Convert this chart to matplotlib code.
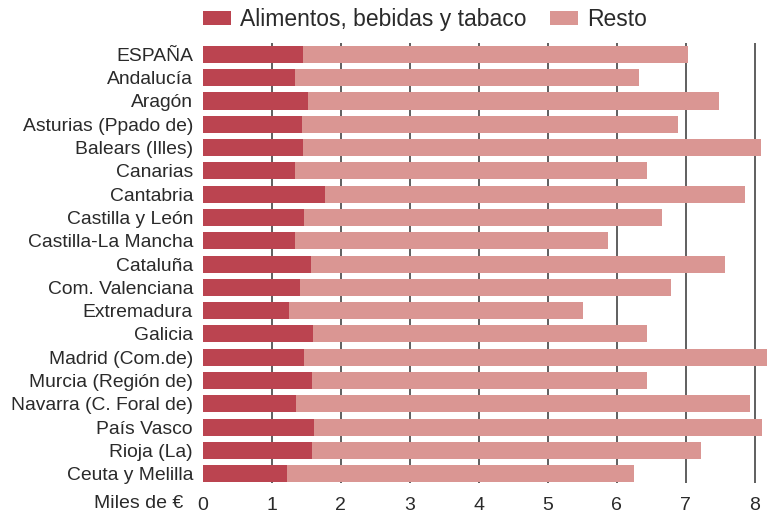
import numpy as np
import matplotlib
matplotlib.use("Agg")
import matplotlib.pyplot as plt

plt.rcParams['font.family'] = ['Liberation Sans', 'DejaVu Sans']

# Datos (miles de euros)
categorias = ["ESPAÑA", "Andalucía", "Aragón", "Asturias (Ppado de)", "Balears (Illes)",
              "Canarias", "Cantabria", "Castilla y León", "Castilla-La Mancha", "Cataluña",
              "Com. Valenciana", "Extremadura", "Galicia", "Madrid (Com.de)",
              "Murcia (Región de)", "Navarra (C. Foral de)", "País Vasco", "Rioja (La)",
              "Ceuta y Melilla"]
alimentos = [1.45, 1.34, 1.53, 1.44, 1.45, 1.34, 1.77, 1.47, 1.34, 1.57,
             1.41, 1.25, 1.60, 1.47, 1.58, 1.35, 1.61, 1.58, 1.22]
resto = [5.58, 4.98, 5.95, 5.45, 6.64, 5.10, 6.09, 5.19, 4.53, 6.00,
         5.38, 4.26, 4.84, 6.73, 4.86, 6.58, 6.50, 5.64, 5.03]
ticks = [0, 1, 2, 3, 4, 5, 6, 7, 8]

c_dark = "#BB4450"
c_light = "#DA9693"
txt = "#2a2a2a"

fig = plt.figure(figsize=(7.67, 5.13), dpi=100)
ax = fig.add_axes([202.7/767, 1-483/513, 1-202.7/767, (483-43)/513])

y = np.arange(len(categorias))
ax.barh(y, alimentos, height=0.73, color=c_dark, zorder=3, label="Alimentos, bebidas y tabaco")
ax.barh(y, resto, left=alimentos, height=0.73, color=c_light, zorder=3, label="Resto")

for t in ticks[1:]:
    ax.axvline(t, color="#444444", lw=1.2, zorder=1)

ax.set_xlim(0, (767-202.7)/69)
ax.set_ylim(len(categorias)-1+0.4, -0.49)
ax.set_yticks(y)
ax.set_yticklabels(categorias, fontsize=13.9, color=txt)
ax.set_xticks(ticks)
ax.set_xticklabels([str(t) for t in ticks], fontsize=14, color=txt)
ax.tick_params(axis='y', length=0, pad=7)
ax.tick_params(axis='x', length=0, pad=10)
for s in ax.spines.values():
    s.set_visible(False)

fig.text(183/767, 1-503/513, "Miles de €", ha='right', va='center', fontsize=14, color=txt)

leg = fig.legend(loc='center left', bbox_to_anchor=(203/767, 1-19.7/513), ncol=2,
                 frameon=False, fontsize=16.5, borderpad=0, borderaxespad=0,
                 handlelength=1.22, handleheight=0.6, handletextpad=0.4,
                 columnspacing=1.0)
for t in leg.get_texts():
    t.set_color(txt)

fig.savefig("out.png", dpi=100)
